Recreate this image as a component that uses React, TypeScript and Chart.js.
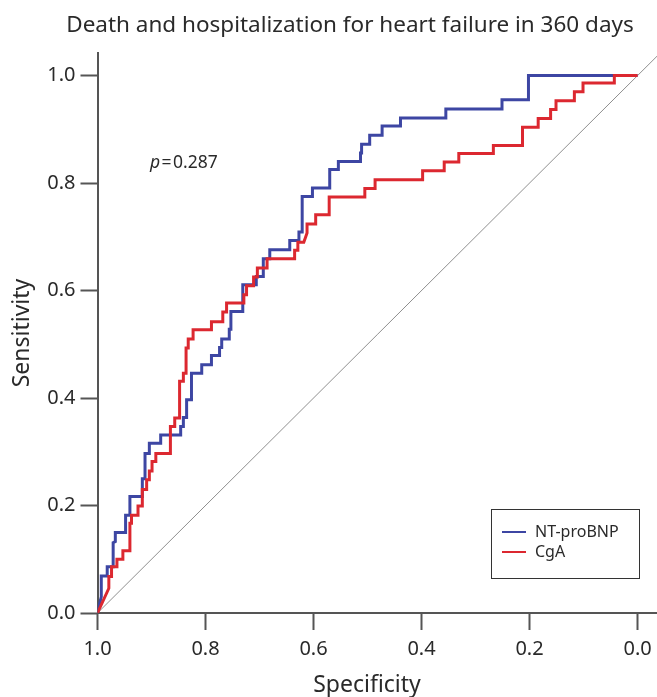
import React, { useEffect, useRef } from 'react';
import { Chart, registerables } from 'chart.js';

Chart.register(...registerables);

const titleText = 'Death and hospitalization for heart failure in 360 days';
const xAxisTitle = 'Specificity';
const yAxisTitle = 'Sensitivity';
const xTicks = [1.0, 0.8, 0.6, 0.4, 0.2, 0.0];
const yTicks = [0.0, 0.2, 0.4, 0.6, 0.8, 1.0];
const seriesNames = ['NT-proBNP', 'CgA'];
const seriesColors = ['#3d46a3', '#dc2830'];

// NT-proBNP ROC vertices (specificity, sensitivity)
const ntSpec = [
  1.0, 0.996, 0.993, 0.993, 0.982, 0.982, 0.971, 0.971, 0.967, 0.967,
  0.948, 0.948, 0.94, 0.94, 0.917, 0.917, 0.912, 0.912, 0.904, 0.904,
  0.883, 0.883, 0.846, 0.846, 0.841, 0.841, 0.835, 0.835, 0.826, 0.826,
  0.807, 0.807, 0.789, 0.789, 0.774, 0.774, 0.77, 0.77, 0.756, 0.756,
  0.753, 0.753, 0.731, 0.731, 0.706, 0.706, 0.693, 0.693, 0.681, 0.681,
  0.644, 0.644, 0.627, 0.627, 0.621, 0.621, 0.602, 0.602, 0.57, 0.57,
  0.554, 0.554, 0.513, 0.513, 0.511, 0.511, 0.496, 0.496, 0.473, 0.473,
  0.439, 0.439, 0.355, 0.355, 0.251, 0.251, 0.202, 0.202, 0.0,
];
const ntSens = [
  0.0, 0.018, 0.03, 0.069, 0.069, 0.086, 0.086, 0.131, 0.133, 0.15,
  0.15, 0.182, 0.182, 0.217, 0.217, 0.25, 0.25, 0.297, 0.297, 0.316,
  0.316, 0.331, 0.331, 0.347, 0.347, 0.364, 0.364, 0.397, 0.397, 0.446,
  0.446, 0.462, 0.462, 0.479, 0.479, 0.494, 0.494, 0.51, 0.51, 0.528,
  0.528, 0.561, 0.561, 0.611, 0.611, 0.626, 0.626, 0.659, 0.659, 0.676,
  0.676, 0.693, 0.693, 0.709, 0.709, 0.775, 0.775, 0.791, 0.791, 0.825,
  0.825, 0.84, 0.84, 0.856, 0.856, 0.872, 0.872, 0.889, 0.889, 0.906,
  0.906, 0.921, 0.921, 0.938, 0.938, 0.955, 0.955, 1.0, 1.0,
];

// CgA ROC vertices (specificity, sensitivity)
const cgaSpec = [
  1.0, 0.979, 0.979, 0.974, 0.974, 0.964, 0.964, 0.953, 0.953, 0.94,
  0.94, 0.937, 0.937, 0.925, 0.925, 0.917, 0.917, 0.909, 0.909, 0.904,
  0.904, 0.899, 0.899, 0.892, 0.892, 0.865, 0.865, 0.857, 0.857, 0.848,
  0.848, 0.841, 0.841, 0.836, 0.836, 0.832, 0.832, 0.823, 0.823, 0.789,
  0.789, 0.768, 0.768, 0.761, 0.761, 0.729, 0.729, 0.724, 0.724, 0.711,
  0.711, 0.704, 0.704, 0.686, 0.686, 0.635, 0.635, 0.629, 0.629, 0.618,
  0.612, 0.612, 0.596, 0.596, 0.571, 0.571, 0.505, 0.505, 0.486, 0.486,
  0.398, 0.398, 0.358, 0.358, 0.331, 0.331, 0.267, 0.267, 0.213, 0.213,
  0.184, 0.184, 0.161, 0.161, 0.151, 0.151, 0.117, 0.117, 0.101, 0.101,
  0.043, 0.043, 0.0,
];
const cgaSens = [
  0.0, 0.046, 0.068, 0.068, 0.086, 0.086, 0.1, 0.1, 0.116, 0.116,
  0.167, 0.167, 0.182, 0.182, 0.199, 0.199, 0.23, 0.23, 0.248, 0.248,
  0.264, 0.264, 0.282, 0.282, 0.297, 0.297, 0.347, 0.347, 0.363, 0.363,
  0.431, 0.431, 0.446, 0.446, 0.493, 0.493, 0.51, 0.51, 0.527, 0.527,
  0.542, 0.542, 0.56, 0.56, 0.577, 0.577, 0.592, 0.592, 0.609, 0.609,
  0.625, 0.625, 0.642, 0.642, 0.659, 0.659, 0.675, 0.675, 0.69, 0.69,
  0.707, 0.724, 0.724, 0.741, 0.741, 0.774, 0.774, 0.79, 0.79, 0.806,
  0.806, 0.823, 0.823, 0.839, 0.839, 0.855, 0.855, 0.87, 0.87, 0.904,
  0.904, 0.92, 0.92, 0.937, 0.937, 0.953, 0.953, 0.97, 0.97, 0.986,
  0.986, 1.0, 1.0,
];

// chance line
const refSpec = [1.0, -0.05];
const refSens = [0.0, 1.05];

const pLabel = 'p';
const pValueText = '0.287';
const pAnchor = [0.903, 0.838];

const FONT = "'Noto Sans', sans-serif";
const AXIS_COLOR = '#555555';
const TEXT_COLOR = '#2a2a2a';

const toPoints = (xs: number[], ys: number[]) => xs.map((x, i) => ({ x, y: ys[i] }));

const overlayPlugin = {
  id: 'overlay',
  afterDraw(chart: any) {
    const { ctx, chartArea, scales } = chart;
    ctx.save();
    // title
    ctx.fillStyle = TEXT_COLOR;
    ctx.font = `22.5px ${FONT}`;
    ctx.textAlign = 'center';
    ctx.textBaseline = 'alphabetic';
    ctx.fillText(titleText, 350, 32);

    // x-axis title
    ctx.font = `23px ${FONT}`;
    ctx.fillText(xAxisTitle, 367, 692);

    // p annotation
    const px = scales.x.getPixelForValue(pAnchor[0]);
    const py = scales.y.getPixelForValue(pAnchor[1]);
    ctx.textAlign = 'left';
    ctx.textBaseline = 'middle';
    ctx.font = `italic 17.5px ${FONT}`;
    ctx.fillText(pLabel, px, py);
    let cx = px + ctx.measureText(pLabel).width + 1.5;
    ctx.font = `17.5px ${FONT}`;
    ctx.fillText('=', cx, py);
    cx += ctx.measureText('=').width + 1.5;
    ctx.fillText(pValueText, cx, py);

    // legend box
    const boxW = 148;
    const boxH = 69;
    const bx = chartArea.right - 18 - boxW;
    const by = chartArea.bottom - 35 - boxH;
    ctx.fillStyle = '#ffffff';
    ctx.fillRect(bx, by, boxW, boxH);
    ctx.strokeStyle = '#333333';
    ctx.lineWidth = 1;
    ctx.strokeRect(Math.round(bx) + 0.5, Math.round(by) + 0.5, boxW, boxH);
    ctx.font = `16px ${FONT}`;
    seriesNames.forEach((name, i) => {
      const ly = by + 23 + i * 20;
      ctx.strokeStyle = seriesColors[i];
      ctx.lineWidth = 2;
      ctx.beginPath();
      ctx.moveTo(bx + 11, ly);
      ctx.lineTo(bx + 35, ly);
      ctx.stroke();
      ctx.fillStyle = TEXT_COLOR;
      ctx.textAlign = 'left';
      ctx.textBaseline = 'middle';
      ctx.fillText(name, bx + 44, ly);
    });
    ctx.restore();
  },
};

export default function App() {
  const canvasRef = useRef<HTMLCanvasElement | null>(null);

  useEffect(() => {
    if (!canvasRef.current) return;
    const chart = new Chart(canvasRef.current, {
      type: 'scatter',
      data: {
        datasets: [
          {
            label: seriesNames[0],
            data: toPoints(ntSpec, ntSens),
            showLine: true,
            borderColor: seriesColors[0],
            backgroundColor: seriesColors[0],
            borderWidth: 3,
            pointRadius: 0,
            tension: 0,
            order: 1,
          },
          {
            label: seriesNames[1],
            data: toPoints(cgaSpec, cgaSens),
            showLine: true,
            borderColor: seriesColors[1],
            backgroundColor: seriesColors[1],
            borderWidth: 3,
            pointRadius: 0,
            tension: 0,
            order: 0,
          },
          {
            label: 'reference',
            data: toPoints(refSpec, refSens),
            showLine: true,
            borderColor: '#8f8f8f',
            borderWidth: 1,
            pointRadius: 0,
            tension: 0,
            order: 2,
          },
        ],
      },
      options: {
        animation: false,
        responsive: false,
        events: [],
        layout: { padding: { top: 53, left: 0, right: 0, bottom: 0 } },
        plugins: {
          legend: { display: false },
          tooltip: { enabled: false },
          title: { display: false },
        },
        scales: {
          x: {
            type: 'linear',
            reverse: true,
            min: -0.036,
            max: 1.0,
            afterBuildTicks: (s: any) => {
              s.ticks = xTicks.map((v) => ({ value: v }));
            },
            afterFit: (s: any) => {
              s.height = 84;
              s.paddingLeft = 0;
              s.paddingRight = 0;
            },
            ticks: {
              callback: (v: any) => Number(v).toFixed(1),
              font: { family: FONT, size: 20 },
              color: TEXT_COLOR,
              padding: 7,
              maxRotation: 0,
              autoSkip: false,
            },
            grid: {
              display: true,
              drawOnChartArea: false,
              drawTicks: true,
              tickLength: 17,
              tickWidth: 2,
              tickColor: AXIS_COLOR,
            },
            border: { display: true, color: AXIS_COLOR, width: 2 },
            title: { display: false },
          },
          y: {
            type: 'linear',
            min: 0,
            max: 1.042,
            afterBuildTicks: (s: any) => {
              s.ticks = yTicks.map((v) => ({ value: v }));
            },
            afterFit: (s: any) => {
              s.width = 97.5;
              s.paddingTop = 0;
              s.paddingBottom = 0;
            },
            ticks: {
              callback: (v: any) => Number(v).toFixed(1),
              font: { family: FONT, size: 20 },
              color: TEXT_COLOR,
              padding: 5,
              autoSkip: false,
            },
            grid: {
              display: true,
              drawOnChartArea: false,
              drawTicks: true,
              tickLength: 17,
              tickWidth: 2,
              tickColor: AXIS_COLOR,
            },
            border: { display: true, color: AXIS_COLOR, width: 2 },
            title: {
              display: true,
              text: yAxisTitle,
              font: { family: FONT, size: 23 },
              color: TEXT_COLOR,
              padding: { top: 9, bottom: 0 },
            },
          },
        },
      },
      plugins: [overlayPlugin],
    } as any);
    return () => chart.destroy();
  }, []);

  return (
    <div style={{ position: 'absolute', left: 0, top: 0, width: 657, height: 697, background: '#fff' }}>
      <canvas ref={canvasRef} width={657} height={697} style={{ display: 'block' }} />
    </div>
  );
}
